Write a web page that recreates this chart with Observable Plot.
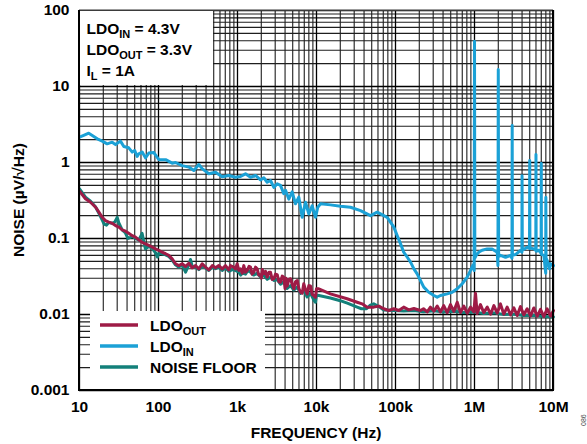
<!DOCTYPE html>
<html><head><meta charset="utf-8">
<script src="https://cdn.jsdelivr.net/npm/d3@7"></script>
<script src="https://cdn.jsdelivr.net/npm/@observablehq/plot@0.6"></script>
<style>
html,body{margin:0;padding:0;background:#fff;}
#chart svg{display:block;}
</style></head><body><div id="chart"></div>
<script>
// ---------- data ----------
const xTicks = [10, 100, 1e3, 1e4, 1e5, 1e6, 1e7];
const xTickLabels = ["10", "100", "1k", "10k", "100k", "1M", "10M"];
const yTicks = [0.001, 0.01, 0.1, 1, 10, 100];
const yTickLabels = ["0.001", "0.01", "0.1", "1", "10", "100"];

const xTitle = "FREQUENCY (Hz)";
const yTitle = "NOISE (µV/√Hz)";

const seriesNames = ["LDO_OUT", "LDO_IN", "NOISE FLOOR"];
const legendMain = ["LDO", "LDO", "NOISE FLOOR"];
const legendSub = ["OUT", "IN", ""];
const seriesColors = ["#9e1b46", "#1ba1d6", "#13807a"];

const annoMain = ["LDO", "LDO", "I"];
const annoSub = ["IN", "OUT", "L"];
const annoTail = [" = 4.3V", " = 3.3V", " = 1A"];

const ldoInFreq = [10, 11.3, 13.1, 14.5, 16.8, 19.4, 22.4, 25.9, 28.6, 33, 36.4, 42, 46.5, 50, 53.7, 56.3, 62.2, 68.4, 75.4, 87.3,
  101, 123, 149, 164, 199, 242, 280, 324, 357, 434, 527, 640, 776, 944, 1092, 1262, 1462, 1690, 1955, 2153,
  2376, 2618, 2886, 3183, 3500, 3855, 4055, 4460, 4920, 5420, 5970, 6590, 7260, 8000, 8810, 9710, 10380, 11240, 15030, 20130,
  26920, 36050, 48270, 58600, 71170, 78500, 95300, 105000, 116000, 127000, 141000, 155000, 171000, 188000, 207000, 228000, 264000, 306000, 337000, 371000,
  451000, 522000, 604000, 699000, 809000, 890000, 960000, 990000, 1000000, 1010000, 1050000, 1130000, 1250000, 1450000, 1670000, 1940000, 1980000, 2000000, 2020000, 2130000,
  2470000, 2850000, 2980000, 3000000, 3020000, 3300000, 3820000, 3980000, 4000000, 4030000, 4650000, 4970000, 5000000, 5030000, 5640000, 5970000, 6000000, 6030000, 6530000, 6970000,
  7000000, 7030000, 7540000, 7970000, 8000000, 8050000, 8320000, 8900000, 9160000, 10000000];
const ldoIn = [2.15, 2.27, 2.43, 2.27, 2.05, 1.91, 1.76, 1.85, 1.72, 1.91, 1.62, 1.56, 1.37, 1.44, 1.2, 1.3, 1.37, 1.15, 1.33, 1.35,
  1.09, 1.09, 0.98, 1.0, 0.91, 0.87, 0.785, 0.94, 0.83, 0.71, 0.745, 0.65, 0.675, 0.64, 0.655, 0.71, 0.64, 0.675, 0.59, 0.63,
  0.55, 0.58, 0.47, 0.525, 0.5, 0.39, 0.43, 0.33, 0.41, 0.286, 0.35, 0.19, 0.30, 0.21, 0.27, 0.19, 0.258, 0.286, 0.277, 0.266,
  0.258, 0.233, 0.2, 0.222, 0.2, 0.19, 0.141, 0.109, 0.085, 0.066, 0.0567, 0.0488, 0.0399, 0.0343, 0.028, 0.0229, 0.0196, 0.0178, 0.0169, 0.0178,
  0.0187, 0.0196, 0.0218, 0.0254, 0.031, 0.038, 0.045, 0.038, 39.5, 0.055, 0.06, 0.066, 0.07, 0.073, 0.073, 0.066, 0.044, 16.7, 0.058, 0.06,
  0.0567, 0.06, 0.055, 3.07, 0.06, 0.0615, 0.07, 0.066, 0.67, 0.07, 0.0769, 0.074, 1.06, 0.075, 0.073, 0.07, 1.27, 0.068, 0.07, 0.064,
  0.98, 0.062, 0.06, 0.035, 0.35, 0.055, 0.051, 0.04, 0.0465, 0.044];

const ldoOutFreq = [10, 11.9, 13.8, 16, 17.6, 19.4, 21.3, 23.5, 25.9, 28.6, 31.5, 34.7, 38.2, 42, 46.5, 51.2, 56.4, 62.2, 68.4, 75.4,
  83.2, 91.6, 101, 111, 123, 135, 149, 164, 181, 199, 220, 242, 267, 294, 324, 357, 393, 434, 479, 527,
  580, 640, 705, 776, 815, 857, 898, 944, 991, 1040, 1092, 1150, 1202, 1260, 1327, 1400, 1462, 1530, 1607, 1690,
  1774, 1860, 1955, 2000, 2060, 2153, 2260, 2376, 2500, 2618, 2750, 2886, 3030, 3183, 3340, 3500, 3680, 3855, 4000, 4100,
  4255, 4470, 4690, 4920, 5160, 5420, 5700, 5970, 6270, 6590, 6900, 7260, 7620, 8000, 8400, 8810, 9250, 9710, 10000, 10700,
  15000, 24400, 32700, 37800, 43700, 53100, 61500, 71100, 82200, 95300, 110000, 127000, 147000, 171000, 207000, 226000, 252000, 277000, 306000, 337000,
  371000, 408000, 451000, 497000, 547000, 604000, 665000, 733000, 809000, 890000, 980000, 1030000, 1080000, 1190000, 1310000, 1450000, 1600000, 1760000, 1940000, 2130000,
  2350000, 2590000, 2860000, 3150000, 3470000, 3820000, 4210000, 4640000, 5120000, 5640000, 6220000, 6850000, 7540000, 8310000, 9160000, 10000000];
const ldoOut = [0.42, 0.333, 0.30, 0.258, 0.222, 0.19, 0.172, 0.164, 0.159, 0.148, 0.141, 0.13, 0.125, 0.117, 0.109, 0.104, 0.096, 0.089, 0.085, 0.081,
  0.077, 0.073, 0.07, 0.066, 0.063, 0.06, 0.054, 0.0465, 0.044, 0.0465, 0.0428, 0.0473, 0.0411, 0.044, 0.0399, 0.0465, 0.042, 0.0387, 0.044, 0.0411,
  0.044, 0.0399, 0.044, 0.0387, 0.044, 0.0428, 0.042, 0.0399, 0.0465, 0.038, 0.0399, 0.035, 0.044, 0.036, 0.038, 0.043, 0.042, 0.034, 0.036, 0.042,
  0.0399, 0.033, 0.0335, 0.03, 0.039, 0.0343, 0.037, 0.031, 0.036, 0.036, 0.029, 0.0295, 0.034, 0.0335, 0.027, 0.0266, 0.032, 0.031, 0.022, 0.03,
  0.0237, 0.029, 0.0295, 0.025, 0.0218, 0.027, 0.028, 0.022, 0.0196, 0.019, 0.0254, 0.021, 0.0187, 0.024, 0.0237, 0.0185, 0.0178, 0.0168, 0.0218, 0.0218,
  0.0187, 0.0161, 0.0145, 0.0138, 0.0125, 0.0125, 0.0129, 0.0119, 0.0113, 0.0119, 0.0113, 0.0125, 0.0115, 0.012, 0.0113, 0.0119, 0.0108, 0.0125, 0.0111, 0.0129,
  0.0108, 0.0131, 0.0106, 0.0135, 0.011, 0.0145, 0.0106, 0.0129, 0.0104, 0.0125, 0.0108, 0.019, 0.0103, 0.0135, 0.0106, 0.0125, 0.0101, 0.0131, 0.0104, 0.0138,
  0.0101, 0.0125, 0.0099, 0.0122, 0.0097, 0.0127, 0.0099, 0.0119, 0.0096, 0.0122, 0.0095, 0.0117, 0.0094, 0.0119, 0.0095, 0.0113];

const floorFreq = [10, 11.9, 13.8, 16, 17.6, 19.4, 20.5, 22, 23.5, 25.9, 28, 30, 31.5, 34.7, 38.2, 41, 46.5, 51.2, 56.4, 62,
  66, 68.4, 75.4, 83.2, 91.6, 97, 101, 111, 123, 135, 149, 164, 181, 199, 220, 242, 254, 267, 294, 324,
  357, 393, 434, 479, 527, 580, 640, 705, 776, 857, 944, 1038, 1100, 1146, 1262, 1350, 1462, 1600, 1774, 1955,
  2150, 2376, 2618, 2886, 3183, 3500, 3855, 4255, 4690, 5160, 5700, 6270, 6900, 7620, 8400, 9250, 9710, 10000, 10700, 15000,
  20000, 25000, 32700, 37000, 43000, 48000, 53000, 61500, 71000, 95000, 127000, 171000, 226000, 306000, 408000, 547000, 733000, 980000, 1310000, 1760000,
  2350000, 3150000, 4210000, 5640000, 7540000, 10000000];
const noiseFloor = [0.45, 0.35, 0.31, 0.26, 0.215, 0.175, 0.155, 0.15, 0.162, 0.158, 0.165, 0.19, 0.16, 0.13, 0.118, 0.1, 0.106, 0.1, 0.095, 0.117,
  0.085, 0.073, 0.079, 0.074, 0.065, 0.057, 0.064, 0.063, 0.061, 0.058, 0.052, 0.045, 0.042, 0.045, 0.036, 0.045, 0.053, 0.043, 0.042, 0.039,
  0.043, 0.041, 0.038, 0.042, 0.04, 0.042, 0.038, 0.041, 0.037, 0.039, 0.038, 0.036, 0.033, 0.035, 0.034, 0.038, 0.036, 0.033, 0.035, 0.031,
  0.033, 0.029, 0.031, 0.028, 0.029, 0.025, 0.027, 0.022, 0.024, 0.021, 0.023, 0.019, 0.021, 0.017, 0.019, 0.0155, 0.0145, 0.018, 0.0178, 0.0165,
  0.0152, 0.014, 0.0125, 0.0119, 0.0119, 0.0133, 0.0138, 0.0127, 0.0115, 0.0113, 0.0111, 0.0113, 0.0109, 0.0112, 0.0108, 0.011, 0.0106, 0.0108, 0.0103, 0.0105,
  0.01, 0.0101, 0.0097, 0.0098, 0.0094, 0.0093];

// ---------- build tables ----------
const toRows = (name, fs, vs) => fs.map((f, i) => ({series: name, freq: f, value: vs[i]}));
const outRows = toRows(seriesNames[0], ldoOutFreq, ldoOut);
const inRows = toRows(seriesNames[1], ldoInFreq, ldoIn);
const floorRows = toRows(seriesNames[2], floorFreq, noiseFloor);

// minor gridlines (2..9 within each decade)
const xMinor = [], yMinor = [];
for (let d = 10; d < 1e7; d *= 10) for (let k = 2; k <= 9; k++) xMinor.push(d * k);
for (let d = 0.001; d < 99; d *= 10) for (let k = 2; k <= 9; k++) yMinor.push(d * k);

const xLabelMap = new Map(xTicks.map((t, i) => [t, xTickLabels[i]]));
const yLabelMap = new Map(yTicks.map((t, i) => [t, yTickLabels[i]]));

const FONT = "'Liberation Sans', Arial, Helvetica, sans-serif";

const chart = Plot.plot({
  width: 587,
  height: 444,
  marginLeft: 79,
  marginRight: 34,
  marginTop: 10,
  marginBottom: 54,
  style: {fontFamily: FONT, fontSize: "15.5px", fontWeight: "bold", color: "#000", background: "#fff"},
  x: {type: "log", domain: [10, 1e7]},
  y: {type: "log", domain: [0.001, 100]},
  marks: [
    Plot.ruleX(xMinor, {stroke: "#1e1e1e", strokeWidth: 1.1}),
    Plot.ruleY(yMinor, {stroke: "#1e1e1e", strokeWidth: 1.1}),
    Plot.ruleX(xTicks, {stroke: "#000", strokeWidth: 1.3}),
    Plot.ruleY(yTicks, {stroke: "#000", strokeWidth: 1.3}),
    Plot.line(floorRows, {x: "freq", y: "value", stroke: seriesColors[2], strokeWidth: 3}),
    Plot.line(inRows, {x: "freq", y: "value", stroke: seriesColors[1], strokeWidth: 3}),
    Plot.line(outRows, {x: "freq", y: "value", stroke: seriesColors[0], strokeWidth: 3}),
    Plot.axisX(xTicks, {tickFormat: d => xLabelMap.get(d), tickSize: 0, tickPadding: 10, label: null, fontSize: 15.5, fontWeight: "bold"}),
    Plot.axisY(yTicks, {tickFormat: d => yLabelMap.get(d), tickSize: 0, tickPadding: 10, label: null, fontSize: 15.5, fontWeight: "bold"})
  ]
});
document.getElementById("chart").append(chart);

// ---------- annotation box, legend, titles, frame ----------
const svg = d3.select(chart);
const ov = svg.append("g").attr("font-family", FONT).attr("font-weight", "bold")
  .attr("fill", "#000").attr("text-anchor", "start").style("text-anchor", "start");

// annotation box (top-left)
ov.append("rect").attr("x", 80).attr("y", 11).attr("width", 133).attr("height", 74).attr("fill", "#fff");
annoMain.forEach((m, i) => {
  const t = ov.append("text").attr("x", 86.5).attr("y", 33.5 + i * 21).attr("font-size", 15.5);
  t.append("tspan").text(m);
  t.append("tspan").attr("font-size", 11).attr("dy", 4).text(annoSub[i]);
  t.append("tspan").attr("dy", -4).text(annoTail[i]);
});

// legend box (bottom-left)
ov.append("rect").attr("x", 90).attr("y", 311).attr("width", 175).attr("height", 78).attr("fill", "#fff");
legendMain.forEach((m, i) => {
  const ly = 325 + i * 21;
  ov.append("line").attr("x1", 100).attr("x2", 138).attr("y1", ly).attr("y2", ly)
    .attr("stroke", seriesColors[i]).attr("stroke-width", 3.5);
  const t = ov.append("text").attr("x", 150).attr("y", ly + 6).attr("font-size", 15.5);
  t.append("tspan").text(m);
  if (legendSub[i]) t.append("tspan").attr("font-size", 11).attr("dy", 4).text(legendSub[i]);
});

// plot frame
ov.append("line").attr("x1", 79).attr("x2", 553).attr("y1", 10).attr("y2", 10).attr("stroke", "#777").attr("stroke-width", 1);
ov.append("line").attr("x1", 79).attr("x2", 79).attr("y1", 10).attr("y2", 391).attr("stroke", "#000").attr("stroke-width", 2);
ov.append("line").attr("x1", 553).attr("x2", 553).attr("y1", 10).attr("y2", 391).attr("stroke", "#000").attr("stroke-width", 2);
ov.append("line").attr("x1", 78).attr("x2", 554).attr("y1", 390).attr("y2", 390).attr("stroke", "#000").attr("stroke-width", 2);

// axis titles
ov.append("text").attr("x", 316).attr("y", 438).attr("text-anchor", "middle").style("text-anchor", "middle").attr("font-size", 15.5).text(xTitle);
ov.append("text").attr("transform", "translate(24,200) rotate(-90)").attr("text-anchor", "middle").style("text-anchor", "middle").attr("font-size", 15.5).text(yTitle);

// figure id
ov.append("text").attr("transform", "translate(586,426) rotate(-90)").attr("font-size", 7).attr("font-weight", "normal").attr("fill", "#444").text("086");
</script></body></html>
